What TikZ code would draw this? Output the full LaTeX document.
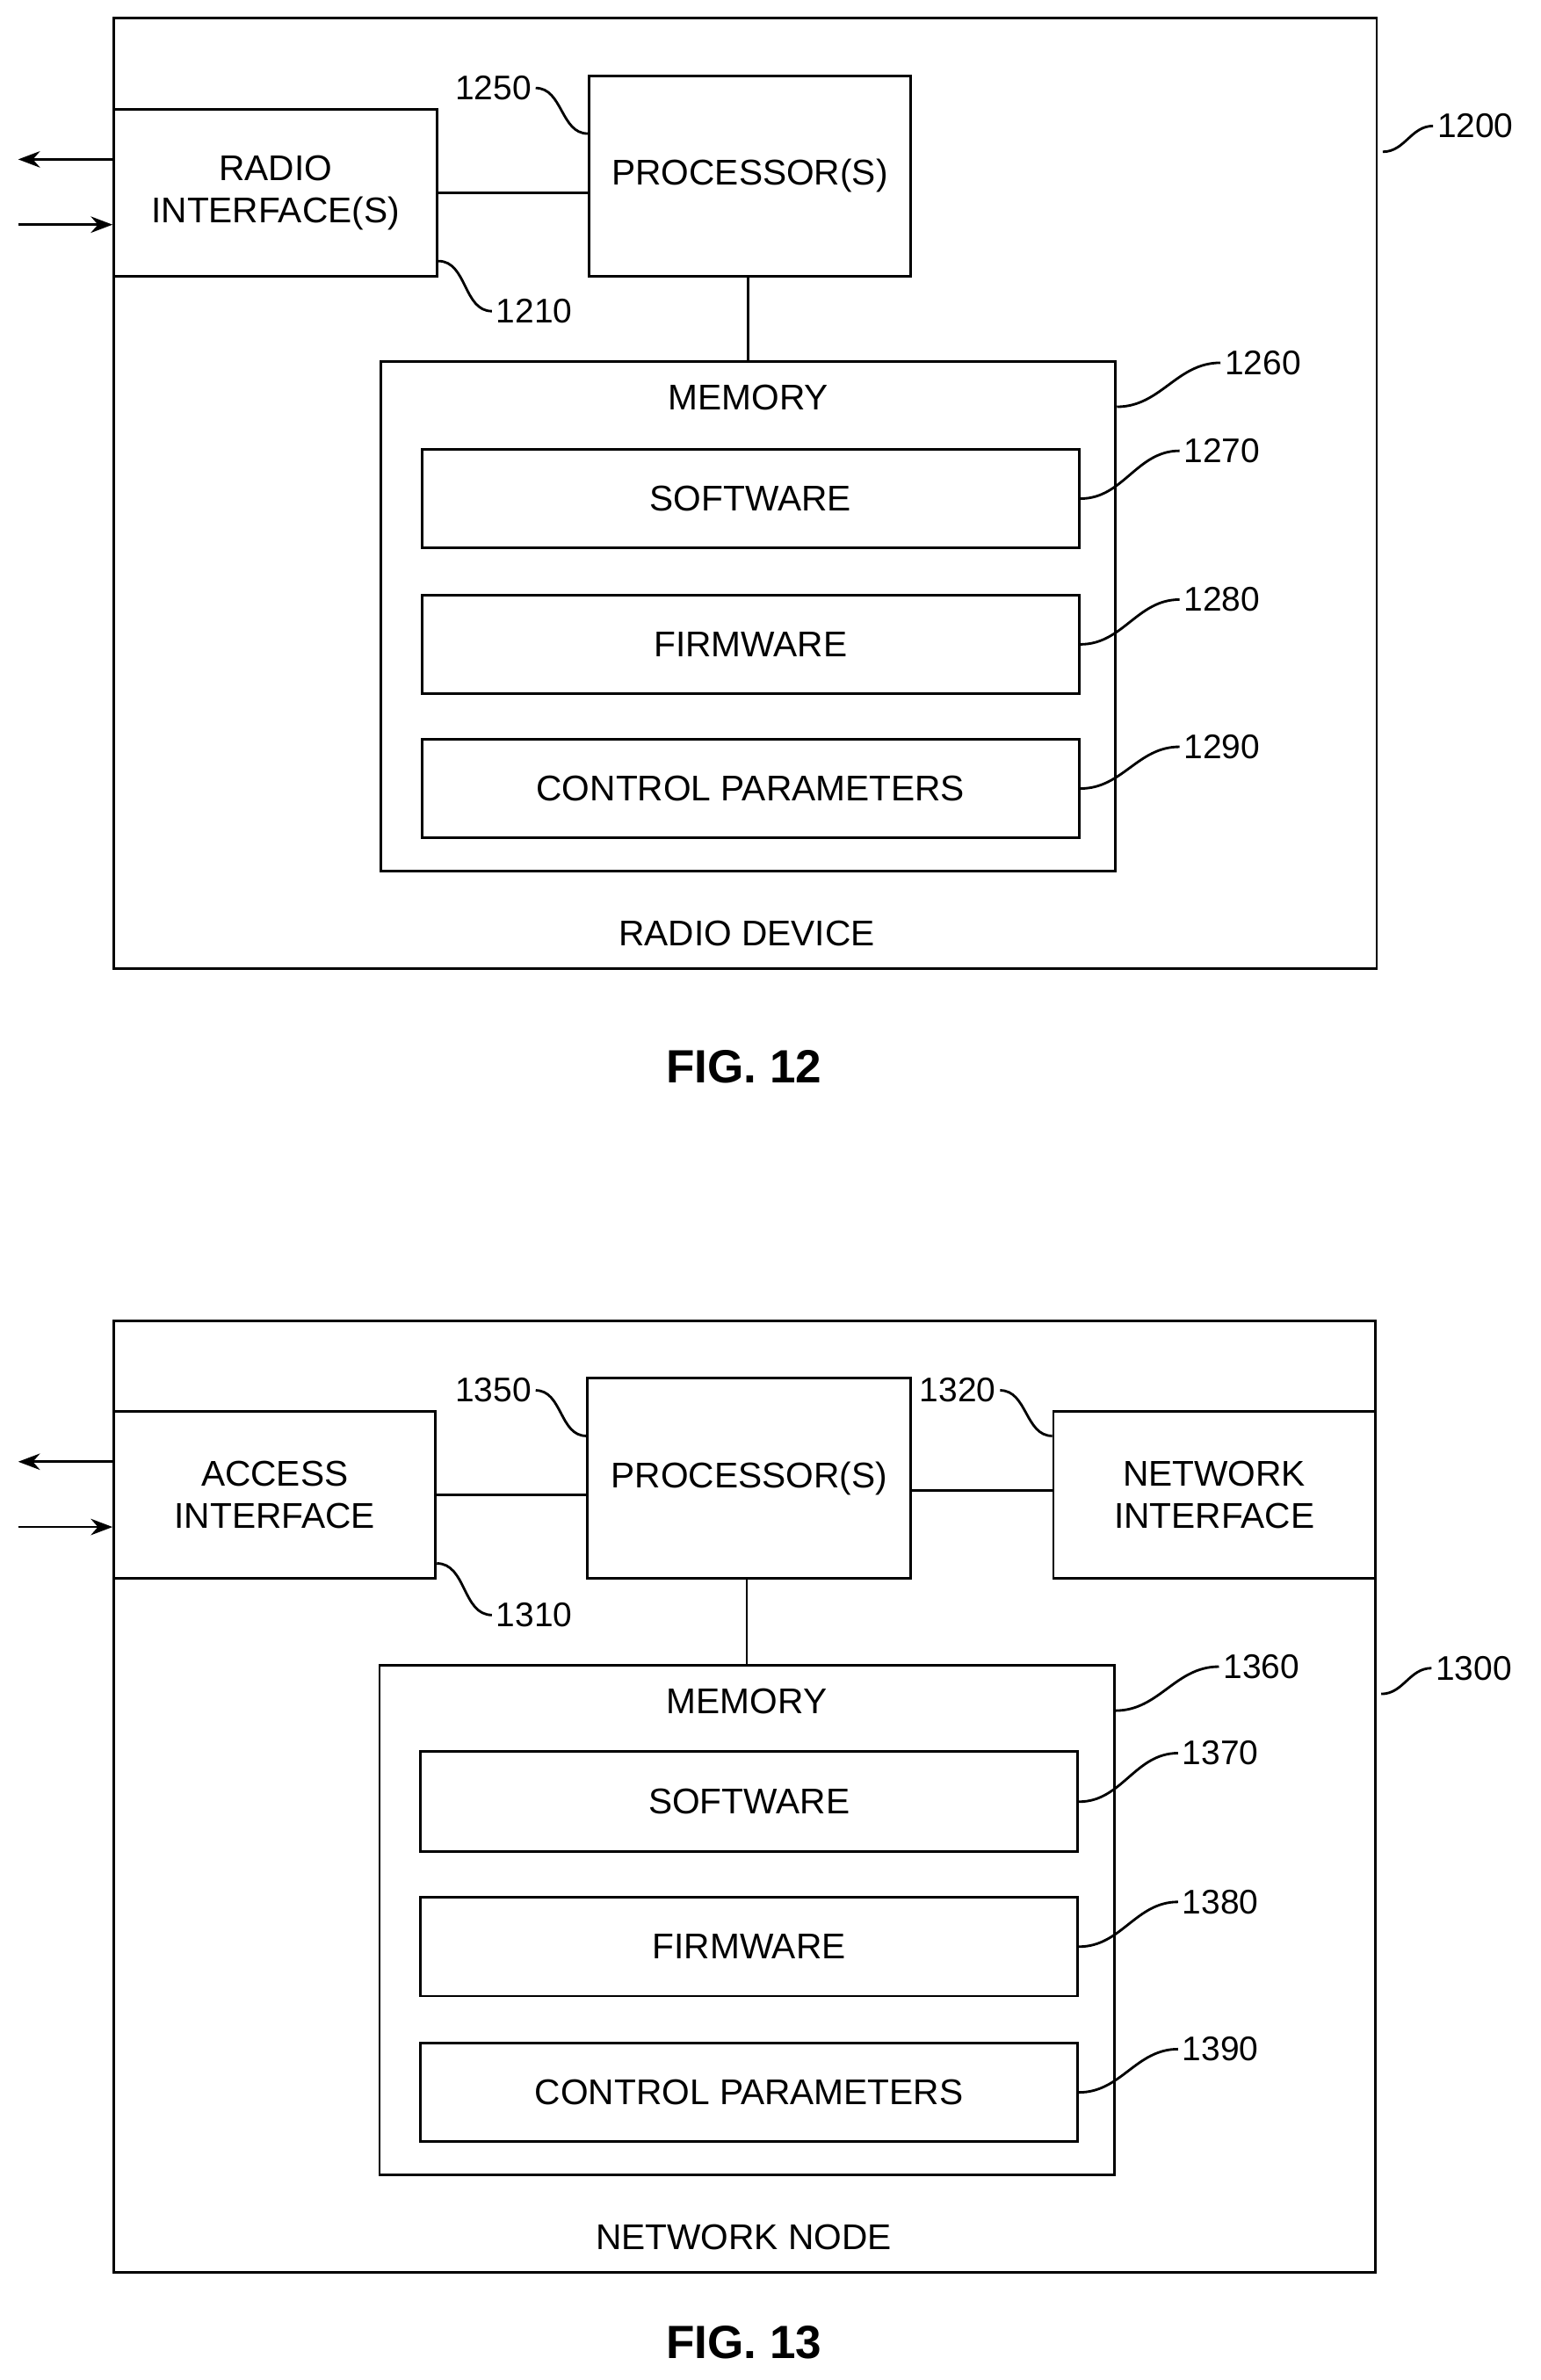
\documentclass[tikz,border=0pt]{standalone}
\usepackage{fontspec}
\setmainfont{Liberation Sans}
\usetikzlibrary{arrows.meta}
\tikzset{
    box/.style={draw, line width=0.8pt, inner sep=0pt, align=center, font=\fontsize{11.5}{13.5}\selectfont}, % rectangle blocks
    txt/.style={font=\fontsize{11.5}{13.5}\selectfont}, % plain labels
    ref/.style={font=\fontsize{11}{13}\selectfont, inner sep=1pt}, % reference numerals
    lead/.style={line width=0.8pt}
}
% \bx{name}{x1}{y1}{x2}{y2}{text}
\newcommand{\bx}[6]{\node[box, minimum width={(#4-#2)*0.01717cm}, minimum height={(#5-#3)*0.01717cm}] (#1) at ({(#2+#4)/2},{(#3+#5)/2}) {#6};}
\begin{document}
\begin{tikzpicture}[x=0.01717cm, y=-0.01717cm, line width=0.8pt]
    \useasboundingbox (0,0) rectangle (1015,1568);

    % FIG. 12
    \bx{dev}{75}{12}{907}{638}{}
    \bx{radio}{75}{72}{288}{182}{RADIO\\INTERFACE(S)}
    \bx{proc}{388}{50}{600}{182}{PROCESSOR(S)}
    \bx{mem}{251}{238}{735}{574}{}
    \bx{sw}{278}{296}{711}{361}{SOFTWARE}
    \bx{fw}{278}{392}{711}{457}{FIRMWARE}
    \bx{cp}{278}{487}{711}{552}{CONTROL PARAMETERS}
    \node[txt] (memlbl) at (493,262) {MEMORY};
    \node[txt] (devlbl) at (492,615) {RADIO DEVICE};
    \node[font=\bfseries\fontsize{15}{18}\selectfont] (fig12) at (490,703) {FIG. 12};

    \draw (radio.east |- 0,127) -- (proc.west |- 0,127);
    \draw (proc.south -| 493,0) -- (mem.north -| 493,0);
    \coordinate (o1) at (12,105);
    \coordinate (i1) at (12,148);
    \draw[-{Stealth[length=7pt]}] (radio.west |- o1) -- (o1);
    \draw[-{Stealth[length=7pt]}] (i1) -- (radio.west |- i1);

    \node[ref] (r1250) at (325,58) {1250};
    \node[ref] (r1210) at (352,205) {1210};
    \node[ref] (r1260) at (832,239) {1260};
    \node[ref] (r1270) at (805,297) {1270};
    \node[ref] (r1280) at (805,395) {1280};
    \node[ref] (r1290) at (805,492) {1290};
    \node[ref] (r1200) at (972,83) {1200};
    \draw[lead] (r1250.east) to[out=0,in=180] (proc.west |- 0,88);
    \draw[lead] (radio.east |- 0,172) to[out=0,in=180] (r1210.west);
    \draw[lead] (mem.east |- 0,268) to[out=0,in=180] (r1260.west);
    \draw[lead] (sw.east) to[out=0,in=180] (r1270.west);
    \draw[lead] (fw.east) to[out=0,in=180] (r1280.west);
    \draw[lead] (cp.east) to[out=0,in=180] (r1290.west);
    \draw[lead] (911,100) to[out=0,in=180] (r1200.west);

    % FIG. 13
    \bx{node}{75}{870}{906}{1497}{}
    \bx{acc}{75}{930}{287}{1040}{ACCESS\\INTERFACE}
    \bx{nproc}{387}{908}{600}{1040}{PROCESSOR(S)}
    \bx{net}{694}{930}{906}{1040}{NETWORK\\INTERFACE}
    \bx{nmem}{250}{1097}{734}{1433}{}
    \bx{nsw}{277}{1154}{710}{1220}{SOFTWARE}
    \bx{nfw}{277}{1250}{710}{1315}{FIRMWARE}
    \bx{ncp}{277}{1346}{710}{1411}{CONTROL PARAMETERS}
    \node[txt] (nmemlbl) at (492,1121) {MEMORY};
    \node[txt] (nodelbl) at (490,1474) {NETWORK NODE};
    \node[font=\bfseries\fontsize{15}{18}\selectfont] (fig13) at (490,1543) {FIG. 13};

    \draw (acc.east |- 0,985) -- (nproc.west |- 0,985);
    \draw (nproc.east |- 0,982) -- (net.west |- 0,982);
    \draw (nproc.south -| 492,0) -- (nmem.north -| 492,0);
    \coordinate (o2) at (12,963);
    \coordinate (i2) at (12,1006);
    \draw[-{Stealth[length=7pt]}] (acc.west |- o2) -- (o2);
    \draw[-{Stealth[length=7pt]}] (i2) -- (acc.west |- i2);

    \node[ref] (r1350) at (325,916) {1350};
    \node[ref] (r1320) at (631,916) {1320};
    \node[ref] (r1310) at (352,1064) {1310};
    \node[ref] (r1360) at (831,1098) {1360};
    \node[ref] (r1370) at (804,1155) {1370};
    \node[ref] (r1380) at (804,1253) {1380};
    \node[ref] (r1390) at (804,1350) {1390};
    \node[ref] (r1300) at (971,1099) {1300};
    \draw[lead] (r1350.east) to[out=0,in=180] (nproc.west |- 0,946);
    \draw[lead] (r1320.east) to[out=0,in=180] (net.west |- 0,946);
    \draw[lead] (acc.east |- 0,1030) to[out=0,in=180] (r1310.west);
    \draw[lead] (nmem.east |- 0,1127) to[out=0,in=180] (r1360.west);
    \draw[lead] (nsw.east) to[out=0,in=180] (r1370.west);
    \draw[lead] (nfw.east) to[out=0,in=180] (r1380.west);
    \draw[lead] (ncp.east) to[out=0,in=180] (r1390.west);
    \draw[lead] (910,1116) to[out=0,in=180] (r1300.west);
\end{tikzpicture}
\end{document}
